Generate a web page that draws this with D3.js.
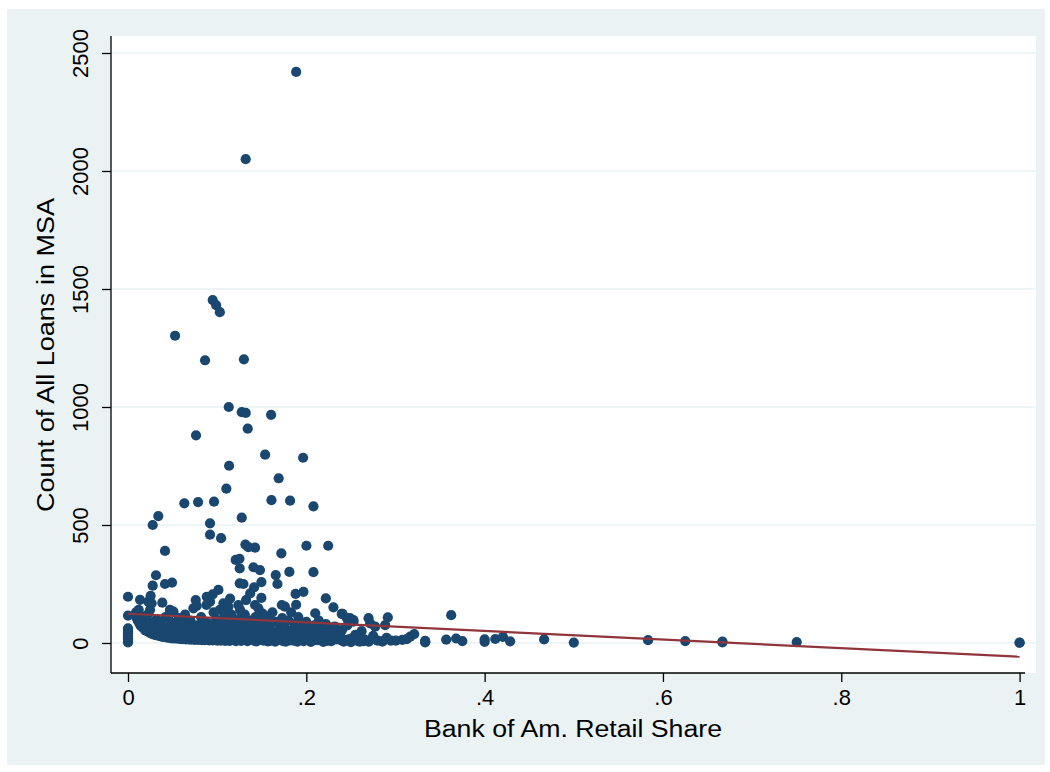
<!DOCTYPE html>
<html><head><meta charset="utf-8">
<script src="https://cdn.jsdelivr.net/npm/d3@7"></script>
<style>body{margin:0;background:#fff}svg text{font-family:"Liberation Sans",Arial,sans-serif;fill:#000}</style>
</head><body><svg id="c" width="1050" height="772"></svg>
<script>
const xTicks = [0, 0.2, 0.4, 0.6, 0.8, 1];
const xTickLabels = ["0", ".2", ".4", ".6", ".8", "1"];
const yTicks = [0, 500, 1000, 1500, 2000, 2500];
const yTickLabels = ["0", "500", "1000", "1500", "2000", "2500"];
const xTitle = "Bank of Am. Retail Share";
const yTitle = "Count of All Loans in MSA";
// [retail share, count of loans] per MSA
const msaPoints = [
 [0,3],[0,8],[0,14],[0,20],[0,27],[0,34],[0,41],[0,48],[0,55],[0,62],[0,116],[0,196],
 [0.009,130],[0.010,104],[0.011,95],[0.012,140],[0.013,82],[0.0135,183],[0.014,75],[0.015,70],[0.0153,97],[0.016,110],[0.017,64],[0.018,90],[0.019,56],[0.020,52],[0.021,75],[0.022,120],[0.023,47],[0.0228,175],[0.024,62],[0.0247,140],[0.025,42],[0.0254,200],[0.026,85],[0.0265,168],[0.027,39],[0.0277,243],[0.0277,500],[0.028,56],[0.029,36],[0.030,70],[0.031,33],[0.0314,287],[0.032,100],[0.033,45],[0.034,31],[0.034,538],[0.035,60],[0.036,29],[0.037,80],[0.038,27],[0.0385,171],[0.039,50],[0.040,26],[0.041,38],[0.0415,390],[0.0415,250],[0.042,110],[0.043,24],[0.044,65],[0.045,23],[0.046,42],[0.047,140],[0.048,21],[0.048,90],[0.049,33],[0.0494,256],[0.050,20],[0.051,133],[0.052,55],[0.0528,1302],[0.053,19],[0.054,75],[0.055,28],[0.056,18],[0.057,105],[0.058,40],[0.059,17],[0.060,60],
 [0.061,16],[0.062,85],[0.0632,592],[0.063,30],[0.063,17],[0.064,120],[0.065,15],[0.066,48],[0.067,70],[0.068,15],[0.069,25],[0.070,95],[0.071,14],[0.071,28],[0.072,40],[0.0733,147],[0.074,58],[0.075,13],[0.076,182],[0.076,30],[0.0763,880],[0.077,157],[0.078,75],[0.0786,597],[0.079,13],[0.079,24],[0.080,45],[0.081,20],[0.082,110],[0.083,12],[0.084,65],[0.085,35],[0.0864,1198],[0.086,12],[0.087,90],[0.087,14],[0.088,161],[0.0883,196],[0.089,22],[0.090,55],[0.091,11],[0.092,175],[0.092,507],[0.092,459],[0.093,80],[0.094,30],[0.095,206],[0.095,1453],[0.095,11],[0.0965,599],[0.096,130],[0.096,20],[0.097,45],[0.098,15],[0.0988,1432],[0.099,100],[0.100,10],[0.101,60],[0.1014,225],[0.102,28],[0.103,1402],[0.103,140],[0.104,10],[0.104,22],[0.1044,444],[0.105,75],[0.106,40],[0.107,168],[0.107,18],[0.108,110],[0.1088,133],[0.109,9],[0.110,50],[0.1103,654],[0.111,25],[0.112,85],[0.112,12],[0.1126,154],[0.113,1000],[0.1134,751],[0.114,9],[0.1145,188],[0.115,35],[0.116,120],[0.117,60],[0.118,14],[0.119,95],[0.119,20],[0.120,45],
 [0.1208,352],[0.121,8],[0.122,70],[0.1238,161],[0.124,30],[0.125,357],[0.1253,316],[0.1253,253],[0.1257,140],[0.126,105],[0.1276,978],[0.1276,531],[0.127,50],[0.127,9],[0.128,12],[0.1295,250],[0.129,85],[0.130,1202],[0.130,22],[0.131,120],[0.1317,417],[0.132,975],[0.132,2050],[0.1324,182],[0.133,60],[0.1343,908],[0.134,8],[0.135,406],[0.135,14],[0.136,40],[0.137,210],[0.138,95],[0.139,16],[0.140,70],[0.1407,321],[0.1414,236],[0.142,30],[0.142,9],[0.1425,404],[0.1425,161],[0.143,110],[0.144,7],[0.145,55],[0.1463,147],[0.147,25],[0.148,309],[0.148,85],[0.1496,258],[0.1496,191],[0.150,40],[0.150,15],[0.151,125],[0.152,10],[0.1538,798],[0.153,65],[0.155,30],[0.156,100],[0.157,7],[0.1586,114],[0.158,50],[0.159,9],[0.160,80],[0.1605,967],[0.1609,605],[0.161,20],[0.162,130],[0.163,45],[0.165,6],[0.1657,288],[0.1676,250],[0.166,90],[0.167,12],[0.168,35],[0.169,698],[0.170,60],[0.171,14],[0.172,380],[0.1725,161],[0.173,105],[0.174,28],[0.174,8],[0.176,154],[0.175,70],[0.177,6],[0.178,45],[0.180,95],[0.181,301],[0.1818,603],[0.182,20],[0.182,11],[0.183,130],[0.184,55],[0.186,10],[0.1886,162],[0.1886,2420],[0.188,208],[0.187,80],[0.189,35],[0.190,6],[0.190,14],[0.191,110],[0.192,50],[0.194,25],[0.1964,785],[0.1968,217],[0.195,70],[0.197,8],[0.198,40],[0.199,20],[0.2001,412],[0.200,90],
 [0.201,16],[0.203,60],[0.205,5],[0.206,30],[0.207,10],[0.208,579],[0.208,300],[0.210,126],[0.209,75],[0.211,45],[0.213,12],[0.214,95],[0.215,18],[0.216,35],[0.218,60],[0.219,5],[0.2219,189],[0.2245,412],[0.222,80],[0.223,9],[0.224,22],[0.226,50],[0.228,8],[0.2304,151],[0.230,40],[0.231,22],[0.232,70],[0.234,15],[0.236,30],[0.238,41],[0.2397,123],[0.2405,123],[0.240,55],[0.240,10],[0.242,6],[0.245,13],[0.2452,107],[0.246,75],[0.248,15],[0.249,105],[0.250,4],[0.251,20],[0.2529,97],[0.2529,90],[0.255,35],[0.256,19],[0.258,8],[0.260,6],[0.262,50],[0.264,8],[0.265,15],[0.2698,105],[0.2716,83],[0.270,6],[0.273,15],[0.2772,69],[0.275,30],[0.280,10],[0.2857,7],[0.285,7],[0.2884,76],[0.2914,109],[0.290,22],[0.295,10],
 [0.3004,10],[0.3077,13],[0.3127,16],[0.3165,27],[0.321,38],[0.3333,3],[0.3333,6],[0.3333,9],[0.3569,14],[0.3625,118],[0.368,19],[0.375,8],[0.400,5],[0.400,15],[0.4119,17],[0.4205,26],[0.4286,7],[0.4667,15],[0.500,2],[0.5833,12],[0.625,8],[0.6667,3],[0.6667,6],[0.750,4],[1,1],[1,2]
];
// linear fit line endpoints
const fitShare = [0, 1];
const fitLoans = [124, -58];

const svg = d3.select("#c");
const plotL = 111, plotR = 1036, plotT = 36, plotB = 673;
const x = d3.scaleLinear().domain([0, 1]).range([128, 1019.6]);
const y = d3.scaleLinear().domain([0, 2500]).range([643, 53]);

svg.append("rect").attr("x", 7).attr("y", 9).attr("width", 1038).attr("height", 756).attr("fill", "#EAF2F3");
svg.append("rect").attr("x", plotL).attr("y", plotT).attr("width", plotR - plotL).attr("height", plotB - plotT).attr("fill", "#fff");

// gridlines
svg.append("g").selectAll("line").data(yTicks).join("line")
  .attr("x1", plotL).attr("x2", plotR).attr("y1", d => y(d)).attr("y2", d => y(d))
  .attr("stroke", "#EAF2F3").attr("stroke-width", 1.6);

// points
svg.append("g").selectAll("circle").data(msaPoints).join("circle")
  .attr("cx", d => x(d[0])).attr("cy", d => y(d[1])).attr("r", 5.1)
  .attr("fill", "#1A476F");

// fit line
const fitData = fitShare.map((s, i) => [s, fitLoans[i]]);
svg.append("path").datum(fitData)
  .attr("d", d3.line().x(d => x(d[0])).y(d => y(d[1])))
  .attr("fill", "none").attr("stroke", "#90353B").attr("stroke-width", 2.2);

// axes
const yAxis = d3.axisLeft(y).tickValues(yTicks).tickSize(9).tickFormat((d, i) => yTickLabels[i]);
const gy = svg.append("g").attr("transform", `translate(${plotL},0)`).call(yAxis);
gy.select(".domain").remove();
gy.append("line").attr("x1", 0).attr("x2", 0).attr("y1", plotT).attr("y2", plotB).attr("stroke", "#000").attr("stroke-width", 1.3);
gy.selectAll(".tick line").attr("stroke", "#000").attr("stroke-width", 1.3);
gy.selectAll(".tick text").attr("font-size", 22).attr("font-family", "Liberation Sans, Arial, sans-serif")
  .attr("x", null).attr("dy", null).attr("text-anchor", "middle")
  .attr("transform", "translate(-23,0) rotate(-90)");

const xAxis = d3.axisBottom(x).tickValues(xTicks).tickSize(9).tickFormat((d, i) => xTickLabels[i]);
const gx = svg.append("g").attr("transform", `translate(0,${plotB})`).call(xAxis);
gx.select(".domain").remove();
gx.append("line").attr("x1", plotL).attr("x2", 1025).attr("y1", 0).attr("y2", 0).attr("stroke", "#000").attr("stroke-width", 1.3);
gx.selectAll(".tick line").attr("stroke", "#000").attr("stroke-width", 1.3);
gx.selectAll(".tick text").attr("font-size", 22).attr("font-family", "Liberation Sans, Arial, sans-serif")
  .attr("y", 32).attr("dy", null);

svg.append("text").attr("x", 573).attr("y", 737).attr("text-anchor", "middle")
  .attr("font-size", 23).attr("textLength", 298).attr("lengthAdjust", "spacingAndGlyphs").text(xTitle);
svg.append("text").attr("transform", "translate(54,355) rotate(-90)").attr("text-anchor", "middle")
  .attr("font-size", 23).attr("textLength", 314).attr("lengthAdjust", "spacingAndGlyphs").text(yTitle);
</script></body></html>
